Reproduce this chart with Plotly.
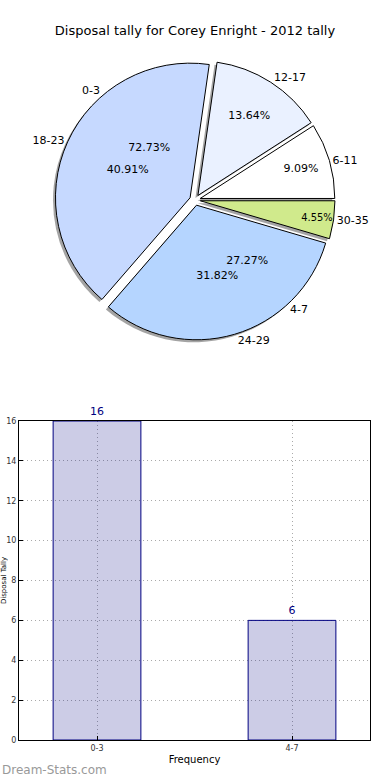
import plotly.graph_objects as go

# ---- data ----
title_text = "Disposal tally for Corey Enright - 2012 tally"
fine_bins = ["6-11", "12-17", "18-23", "24-29", "30-35"]
fine_counts = [2, 3, 9, 7, 1]
coarse_bins = ["0-3", "4-7"]
coarse_counts = [16, 6]
fine_colors = ["#ffffff", "#eaf1ff", "#c6d9ff", "#b5d5ff", "#d0ea8c"]
pulls = [0.04, 0.04, 0.04, 0.04, 0.04]

# slices go counterclockwise from 3 o'clock: draw reversed, clockwise
fb, fc, fcol, fp = fine_bins[::-1], fine_counts[::-1], fine_colors[::-1], pulls[::-1]
cb, cc = coarse_bins[::-1], coarse_counts[::-1]

W, H = 390, 780
ml, mr, mt, mb = 19, 20, 0, 40
pw, ph = W - ml - mr, H - mt - mb

def fx(px):
    return (px - ml) / pw

def fy(py):
    return (H - mb - py) / ph

cx, cy, half = 195, 200, 140
dom_x = [fx(cx - half), fx(cx + half)]
dom_y = [fy(cy + half), fy(cy - half)]
sdx, sdy = 2.5 / pw, 2.5 / ph
shadow_x = [dom_x[0] - sdx, dom_x[1] - sdx]
shadow_y = [dom_y[0] - sdy, dom_y[1] - sdy]

font = "DejaVu Sans"
common = dict(sort=False, direction="clockwise", rotation=90,
              hoverinfo="skip", showlegend=False)

fig = go.Figure()

# shadow
fig.add_trace(go.Pie(labels=fb, values=fc, pull=fp,
                     domain=dict(x=shadow_x, y=shadow_y),
                     marker=dict(colors=["rgba(90,90,90,0.55)"] * 5, line=dict(width=0)),
                     textinfo="none", **common))
# main pie with percentages inside
fig.add_trace(go.Pie(labels=fb, values=fc, pull=fp,
                     domain=dict(x=dom_x, y=dom_y),
                     marker=dict(colors=fcol, line=dict(color="black", width=1)),
                     texttemplate="%{percent:.2%}", textposition="inside",
                     insidetextorientation="horizontal",
                     textfont=dict(family=font, size=11, color="black"), **common))
# fine labels outside
fig.add_trace(go.Pie(labels=fb, values=fc, pull=fp,
                     domain=dict(x=dom_x, y=dom_y),
                     marker=dict(colors=["rgba(0,0,0,0)"] * 5, line=dict(width=0)),
                     texttemplate="%{label}", textposition="outside",
                     textfont=dict(family=font, size=11, color="black"), **common))
# coarse labels outside
fig.add_trace(go.Pie(labels=cb, values=cc,
                     domain=dict(x=dom_x, y=dom_y),
                     marker=dict(colors=["rgba(0,0,0,0)"] * 2, line=dict(width=0)),
                     texttemplate="%{label}", textposition="outside",
                     textfont=dict(family=font, size=11, color="black"), **common))
# coarse percentages inside
fig.add_trace(go.Pie(labels=cb, values=cc,
                     domain=dict(x=dom_x, y=dom_y),
                     marker=dict(colors=["rgba(0,0,0,0)"] * 2, line=dict(width=0)),
                     texttemplate="%{percent:.2%}", textposition="inside",
                     insidetextorientation="horizontal",
                     textfont=dict(family=font, size=11, color="black"), **common))

# bar chart
fig.add_trace(go.Bar(x=coarse_bins, y=coarse_counts, width=0.45,
                     marker=dict(color="rgba(0,0,128,0.2)", line=dict(color="#000080", width=1)),
                     text=[str(v) for v in coarse_counts], textposition="outside",
                     textfont=dict(family=font, size=11, color="#000080"),
                     cliponaxis=False, showlegend=False, hoverinfo="skip"))

grid = dict(showgrid=True, gridcolor="#aaaaaa", griddash="1px,3px", gridwidth=1,
            showline=True, linecolor="black", mirror=True, automargin=False,
            ticks="inside", ticklen=4, tickcolor="black",
            tickfont=dict(size=8, color="#333"))

fig.update_layout(
    width=W, height=H,
    margin=dict(l=ml, r=mr, t=mt, b=mb),
    paper_bgcolor="white", plot_bgcolor="white",
    font=dict(family=font, color="black"),
    title=dict(text=title_text, x=0.5, xanchor="center", y=1 - 30 / H, yanchor="middle",
               yref="container", font=dict(family=font, size=13, color="black")),
    xaxis=dict(domain=[0, 1], range=[-0.4, 1.4],
               title=dict(text="Frequency", font=dict(size=10), standoff=4), **grid),
    yaxis=dict(domain=[0, fy(421)], range=[0, 16], dtick=2, zeroline=False,
               title=dict(text="Disposal Tally", font=dict(size=7), standoff=1), **grid),
    annotations=[dict(text="Dream-Stats.com", xref="paper", yref="paper",
                      x=fx(0), y=fy(770), xanchor="left", yanchor="middle",
                      showarrow=False,
                      font=dict(family=font, size=12, color="#999999"))],
)

fig.write_html("out.html", config={"displayModeBar": False},
               post_script="document.body.style.margin='0';document.body.style.overflow='hidden';")
